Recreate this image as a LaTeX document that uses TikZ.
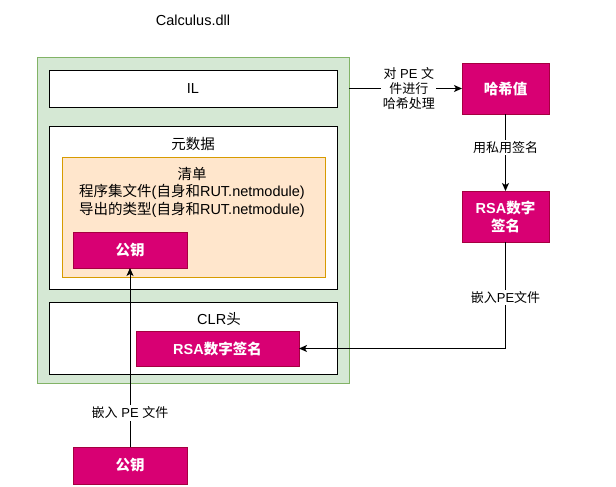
\documentclass[tikz,border=0pt]{standalone}
\usepackage{fontspec}
\setmainfont{Liberation Sans}
\newfontfamily\cjk{Noto Sans CJK SC}
\newcommand\zh[1]{{\cjk #1}}
\usetikzlibrary{arrows.meta}
\definecolor{pinkf}{HTML}{D80073}
\definecolor{pinks}{HTML}{A50040}
\definecolor{greenf}{HTML}{D5E8D4}
\definecolor{greens}{HTML}{82B366}
\definecolor{orangef}{HTML}{FFE6CC}
\definecolor{oranges}{HTML}{D79B00}
\tikzset{
  base/.style={inner sep=0pt, outer sep=0pt, line width=0.9pt, font=\fontsize{14.5}{17}\selectfont},
  whitebox/.style={base, draw=black, fill=white, rectangle},
  pinkbox/.style={base, draw=pinks, fill=pinkf, text=white, font=\fontsize{14.5}{18}\selectfont\bfseries, align=center},
  lbl/.style={font=\fontsize{13}{15}\selectfont, fill=white, inner sep=1.5pt, align=center},
  txt/.style={font=\fontsize{14.5}{17.5}\selectfont, inner sep=0pt, align=center},
  arr/.style={line width=0.9pt, -{Stealth[length=8pt,width=7pt,inset=2pt]}},
  ln/.style={line width=0.9pt}
}
\begin{document}
\begin{tikzpicture}[x=1pt,y=-1pt]
\useasboundingbox (0,0) rectangle (616,487);
\node[txt] (title) at (193,20) {Calculus.dll};
\node[base, draw=greens, fill=greenf, minimum width=312, minimum height=326] (dll) at (193,220) {};
\node[whitebox, minimum width=288, minimum height=37] (il) at (193,88.5) {IL};
\node[whitebox, minimum width=288, minimum height=163] (meta) at (193,207.5) {};
\node[txt] (metalbl) at (193,144) {\zh{元数据}};
\node[base, draw=oranges, fill=orangef, minimum width=263, minimum height=120] (man) at (193.5,217) {};
\node[txt] (manlbl) at (192,192) {\zh{清单}\\\zh{程序集文件}(\zh{自身和}RUT.netmodule)\\\zh{导出的类型}(\zh{自身和}RUT.netmodule)};
\node[pinkbox, minimum width=114, minimum height=36] (pk1) at (130,250) {\zh{公钥}};
\node[whitebox, minimum width=288, minimum height=72] (clr) at (193,338) {};
\node[txt] (clrlbl) at (219,319) {CLR\zh{头}};
\node[pinkbox, minimum width=163, minimum height=35] (rsa1) at (217.5,348.5) {RSA\zh{数字签名}};
\node[pinkbox, minimum width=87, minimum height=51] (hash) at (505.5,88.5) {\zh{哈希值}};
\node[pinkbox, minimum width=87, minimum height=51] (rsa2) at (505.5,216.5) {RSA\zh{数字}\\\zh{签名}};
\node[pinkbox, minimum width=114, minimum height=37] (pk2) at (130,465.5) {\zh{公钥}};
\coordinate (hstart) at (dll.east |- hash.west);
\draw[arr] (hstart) -- node[lbl, pos=0.53] {\zh{对} PE \zh{文}\\\zh{件进行}\\\zh{哈希处理}} (hash.west);
\draw[arr] (hash.south) -- node[lbl, pos=0.43] {\zh{用私用签名}} (rsa2.north);
\coordinate (corner) at (rsa2.south |- rsa1.east);
\draw[ln] (rsa2.south) -- node[lbl, pos=0.52] {\zh{嵌入}PE\zh{文件}} (corner);
\draw[arr] (corner) -- (rsa1.east);
\draw[arr] (pk2.north) -- node[lbl, pos=0.19] {\zh{嵌入} PE \zh{文件}} (pk1.south);
\end{tikzpicture}
\end{document}
